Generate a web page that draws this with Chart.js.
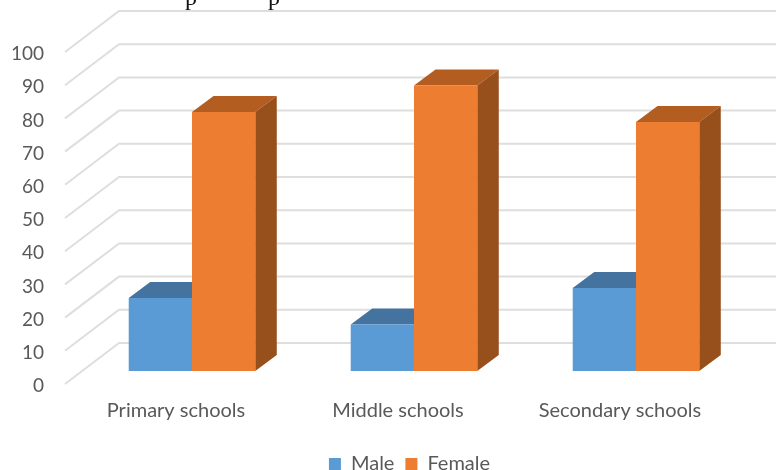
<!DOCTYPE html>
<html>
<head>
  <title>Schools by gender</title>
  <script src="https://cdn.jsdelivr.net/npm/chart.js"></script>
</head>
<body style="margin:0;background:#fff;overflow:hidden;">
  <canvas id="chart" width="776" height="470"></canvas>

  <script>
    const categories = ["Primary schools", "Middle schools", "Secondary schools"];
    const male = [22, 14, 25];
    const female = [78, 86, 75];
    const yTicks = [0, 10, 20, 30, 40, 50, 60, 70, 80, 90, 100];

    // depth of the box behind the axis plane
    const wallX = 54, wallY = 41;
    // bars stand part way into the box
    const barShiftX = 16, barShiftY = 13;
    // bar extrusion
    const depthX = 21.5, depthY = 16;

    const faces = [
      { top: "#44739f", side: "#3c6690" },
      { top: "#b45d21", side: "#974f1b" }
    ];

    function face(ctx, pts, color) {
      ctx.fillStyle = color;
      ctx.beginPath();
      pts.forEach((p, i) => i ? ctx.lineTo(p[0], p[1]) : ctx.moveTo(p[0], p[1]));
      ctx.closePath();
      ctx.fill();
    }

    const box3d = {
      id: "box3d",
      afterLayout(chart) {
        // legend sits lower and further right than the default slot
        chart.legend.left += 44;
        chart.legend.right += 44;
        chart.legend.top += 10;
        chart.legend.bottom += 10;
      },
      beforeDatasetsDraw(chart) {
        const { ctx, scales, chartArea, width } = chart;
        // walls
        ctx.save();
        ctx.strokeStyle = "#dedede";
        ctx.lineWidth = 2;
        yTicks.forEach(v => {
          const y = scales.y.getPixelForValue(v);
          ctx.beginPath();
          ctx.moveTo(chartArea.left, y);
          ctx.lineTo(chartArea.left + wallX, y - wallY);
          ctx.lineTo(width, y - wallY);
          ctx.stroke();
        });
        ctx.restore();

        // everything until afterDatasetsDraw sits deeper in the box
        ctx.save();
        ctx.translate(barShiftX, -barShiftY);
        chart.data.datasets.forEach((ds, i) => {
          chart.getDatasetMeta(i).data.forEach(bar => {
            const l = bar.x - bar.width / 2, r = bar.x + bar.width / 2;
            face(ctx, [[l, bar.y], [l + depthX, bar.y - depthY], [r + depthX, bar.y - depthY], [r, bar.y]], faces[i].top);
            face(ctx, [[r, bar.y], [r + depthX, bar.y - depthY], [r + depthX, bar.base - depthY], [r, bar.base]], faces[i].side);
          });
        });
      },
      afterDatasetsDraw(chart) {
        chart.ctx.restore();
      },
      afterDraw(chart) {
        // tail of the caption sitting above the chart
        const ctx = chart.ctx;
        ctx.save();
        ctx.fillStyle = "#111";
        ctx.font = "24px 'Liberation Serif'";
        ctx.fillText("p", 185, -1);
        ctx.fillText("p", 268, -1);
        ctx.restore();
      }
    };

    const chart = new Chart(document.getElementById("chart").getContext("2d"), {
      type: "bar",
      data: {
        labels: categories,
        datasets: [
          { label: "Male", data: male, backgroundColor: "#5b9bd5" },
          { label: "Female", data: female, backgroundColor: "#ed7d31" }
        ]
      },
      options: {
        responsive: false,
        animation: false,
        layout: { padding: { top: 52, right: 45, bottom: -4, left: 0 } },
        categoryPercentage: 0.57,
        barPercentage: 1,
        scales: {
          x: {
            afterFit(scale) { scale.height = 49; },
            grid: { display: false },
            border: { display: false },
            ticks: { color: "#595959", font: { family: "Lato", size: 20 }, padding: 7, maxRotation: 0 }
          },
          y: {
            min: 0,
            max: 100,
            afterFit(scale) { scale.width = 65; },
            grid: { display: false },
            border: { display: false },
            ticks: { color: "#595959", font: { family: "Lato", size: 19 }, padding: 13, stepSize: 10, labelOffset: 2 }
          }
        },
        plugins: {
          title: { display: false },
          tooltip: { enabled: false },
          legend: {
            position: "bottom",
            labels: { color: "#595959", font: { family: "Lato", size: 20 }, boxWidth: 12, boxHeight: 12, padding: 11 }
          }
        }
      },
      plugins: [box3d]
    });
  </script>
</body>
</html>
